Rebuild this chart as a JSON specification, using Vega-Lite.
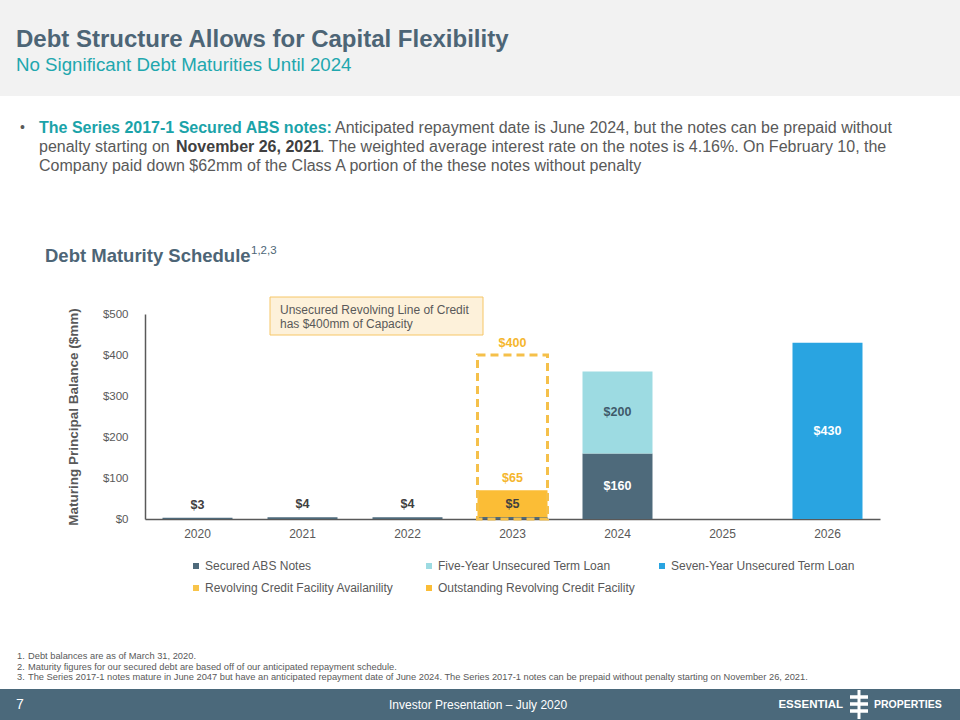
{
  "$schema": "https://vega.github.io/schema/vega-lite/v6.json",
  "width": 735,
  "height": 205,
  "autosize": {"type": "none"},
  "padding": {"left": 145, "top": 314, "right": 80, "bottom": 201},
  "background": "#ffffff",
  "config": {
    "view": {"stroke": null},
    "font": "Liberation Sans",
    "text": {"font": "Liberation Sans"},
    "axis": {"labelFont": "Liberation Sans", "titleFont": "Liberation Sans"},
    "legend": {"labelFont": "Liberation Sans"}
  },
  "data": {
    "values": [
      {"year": "2020", "series": "Secured ABS Notes", "value": 3},
      {"year": "2021", "series": "Secured ABS Notes", "value": 4},
      {"year": "2022", "series": "Secured ABS Notes", "value": 4},
      {"year": "2023", "series": "Secured ABS Notes", "value": 5},
      {"year": "2023", "series": "Outstanding Revolving Credit Facility", "value": 65},
      {"year": "2023", "series": "Revolving Credit Facility Availanility", "value": 400},
      {"year": "2024", "series": "Secured ABS Notes", "value": 160},
      {"year": "2024", "series": "Five-Year Unsecured Term Loan", "value": 200},
      {"year": "2026", "series": "Seven-Year Unsecured Term Loan", "value": 430}
    ]
  },
  "layer": [
    {
      "data": {"values": [{}]},
      "mark": {"type": "rect", "fill": "#f2f2f2"},
      "encoding": {"x": {"value": -145}, "x2": {"value": 815}, "y": {"value": -314}, "y2": {"value": -218}}
    },
    {
      "data": {"values": [{}]},
      "mark": {"type": "rect", "fill": "#4b697b"},
      "encoding": {"x": {"value": -145}, "x2": {"value": 815}, "y": {"value": 375}, "y2": {"value": 406}}
    },
    {
      "transform": [
        {"filter": "datum.series !== 'Revolving Credit Facility Availanility'"},
        {"stack": "value", "groupby": ["year"], "sort": [{"field": "series", "order": "descending"}], "as": ["v0", "v1"]}
      ],
      "mark": {"type": "bar"},
      "encoding": {
        "x": {
          "field": "year", "type": "nominal",
          "scale": {"domain": ["2020", "2021", "2022", "2023", "2024", "2025", "2026"], "paddingInner": 0.3333, "paddingOuter": 0.1667},
          "axis": {"title": null, "labelAngle": 0, "ticks": false, "domainColor": "#595959", "domainWidth": 1.5, "labelColor": "#595959", "labelFontSize": 12, "labelPadding": 9}
        },
        "y": {
          "field": "v1", "type": "quantitative",
          "scale": {"domain": [0, 500], "nice": false},
          "axis": {"title": "Maturing Principal Balance ($mm)", "values": [0, 100, 200, 300, 400, 500], "labelExpr": "'$' + datum.value", "grid": false, "ticks": false, "domainColor": "#595959", "domainWidth": 1.5, "labelColor": "#595959", "labelFontSize": 11.5, "labelPadding": 17, "titleFontSize": 13.5, "titleFontWeight": "bold", "titleColor": "#595959", "titlePadding": 22}
        },
        "y2": {"field": "v0"},
        "color": {
          "field": "series", "type": "nominal",
          "scale": {
            "domain": ["Secured ABS Notes", "Five-Year Unsecured Term Loan", "Seven-Year Unsecured Term Loan", "Revolving Credit Facility Availanility", "Outstanding Revolving Credit Facility"],
            "range": ["#4e6a7b", "#9ddbe2", "#29a4e1", "#f8c44a", "#fbbd36"]
          },
          "legend": {
            "title": null, "orient": "none", "legendX": 45, "legendY": 246, "direction": "horizontal", "columns": 3,
            "gridAlign": "all", "columnPadding": 21, "rowPadding": 10, "padding": 0,
            "symbolType": "square", "symbolSize": 36, "labelFontSize": 12, "labelColor": "#595959", "labelOffset": 3, "labelLimit": 300
          }
        }
      }
    },
    {
      "transform": [{"filter": "datum.series === 'Revolving Credit Facility Availanility'"}],
      "mark": {"type": "bar", "fillOpacity": 0, "stroke": "#f5c04a", "strokeWidth": 3, "strokeDash": [8, 5]},
      "encoding": {
        "x": {"field": "year", "type": "nominal"},
        "y": {"field": "value", "type": "quantitative", "stack": null}
      }
    },
    {
      "transform": [
        {"filter": "datum.series !== 'Revolving Credit Facility Availanility'"},
        {"stack": "value", "groupby": ["year"], "sort": [{"field": "series", "order": "descending"}], "as": ["v0", "v1"]},
        {"filter": "datum.series === 'Secured ABS Notes' && datum.year !== '2024'"},
        {"calculate": "'$' + datum.value", "as": "label"}
      ],
      "mark": {"type": "text", "dy": -13, "fontSize": 12.5, "fontWeight": "bold", "fill": "#404040"},
      "encoding": {"x": {"field": "year", "type": "nominal"}, "y": {"field": "v1", "type": "quantitative"}, "text": {"field": "label"}}
    },
    {
      "transform": [
        {"filter": "datum.series !== 'Revolving Credit Facility Availanility'"},
        {"stack": "value", "groupby": ["year"], "sort": [{"field": "series", "order": "descending"}], "as": ["v0", "v1"]},
        {"filter": "datum.series === 'Outstanding Revolving Credit Facility'"},
        {"calculate": "'$' + datum.value", "as": "label"}
      ],
      "mark": {"type": "text", "dy": -12, "fontSize": 12.5, "fontWeight": "bold", "fill": "#f5b62e"},
      "encoding": {"x": {"field": "year", "type": "nominal"}, "y": {"field": "v1", "type": "quantitative"}, "text": {"field": "label"}}
    },
    {
      "transform": [
        {"filter": "datum.series === 'Revolving Credit Facility Availanility'"},
        {"calculate": "'$' + datum.value", "as": "label"}
      ],
      "mark": {"type": "text", "dy": -12, "fontSize": 12.5, "fontWeight": "bold", "fill": "#f5b62e"},
      "encoding": {"x": {"field": "year", "type": "nominal"}, "y": {"field": "value", "type": "quantitative"}, "text": {"field": "label"}}
    },
    {
      "transform": [
        {"filter": "datum.series !== 'Revolving Credit Facility Availanility'"},
        {"stack": "value", "groupby": ["year"], "sort": [{"field": "series", "order": "descending"}], "as": ["v0", "v1"]},
        {"filter": "(datum.series === 'Secured ABS Notes' && datum.year === '2024') || datum.series === 'Seven-Year Unsecured Term Loan'"},
        {"calculate": "(datum.v0 + datum.v1) / 2", "as": "mid"},
        {"calculate": "'$' + datum.value", "as": "label"}
      ],
      "mark": {"type": "text", "fontSize": 12.5, "fontWeight": "bold", "fill": "#ffffff"},
      "encoding": {"x": {"field": "year", "type": "nominal"}, "y": {"field": "mid", "type": "quantitative"}, "text": {"field": "label"}}
    },
    {
      "transform": [
        {"filter": "datum.series !== 'Revolving Credit Facility Availanility'"},
        {"stack": "value", "groupby": ["year"], "sort": [{"field": "series", "order": "descending"}], "as": ["v0", "v1"]},
        {"filter": "datum.series === 'Five-Year Unsecured Term Loan'"},
        {"calculate": "(datum.v0 + datum.v1) / 2", "as": "mid"},
        {"calculate": "'$' + datum.value", "as": "label"}
      ],
      "mark": {"type": "text", "fontSize": 12.5, "fontWeight": "bold", "fill": "#3f5a6a"},
      "encoding": {"x": {"field": "year", "type": "nominal"}, "y": {"field": "mid", "type": "quantitative"}, "text": {"field": "label"}}
    },
    {
      "data": {"values": [{}]},
      "mark": {"type": "rect", "fill": "#fdf1da", "stroke": "#f6c667", "strokeWidth": 1},
      "encoding": {"x": {"value": 125}, "x2": {"value": 338}, "y": {"value": -17}, "y2": {"value": 21}}
    },
    {
      "data": {"values": [{}]},
      "mark": {"type": "text", "text": ["Unsecured Revolving Line of Credit", "has $400mm of Capacity"], "lineHeight": 14, "x": 135, "y": -4, "align": "left", "baseline": "middle", "fontSize": 12, "fill": "#595959"}
    },
    {
      "data": {"values": [{}]},
      "mark": {"type": "text", "text": "Debt Structure Allows for Capital Flexibility", "x": -129, "y": -267, "align": "left", "baseline": "alphabetic", "fontSize": 24, "fontWeight": "bold", "fill": "#4d6576"}
    },
    {
      "data": {"values": [{}]},
      "mark": {"type": "text", "text": "No Significant Debt Maturities Until  2024", "x": -129, "y": -243, "align": "left", "baseline": "alphabetic", "fontSize": 18.7, "fill": "#21a7ae"}
    },
    {
      "data": {"values": [{}]},
      "mark": {"type": "text", "text": "•", "x": -125, "y": -186, "align": "left", "baseline": "middle", "fontSize": 14, "fill": "#595959"}
    },
    {
      "data": {"values": [{}]},
      "mark": {"type": "text", "text": "The Series 2017-1 Secured ABS notes:", "x": -106, "y": -186, "align": "left", "baseline": "middle", "fontSize": 16, "fontWeight": "bold", "fill": "#1aa3a9"}
    },
    {
      "data": {"values": [{}]},
      "mark": {"type": "text", "text": "Anticipated repayment date is June 2024, but the notes can be prepaid without", "x": 190, "y": -186, "align": "left", "baseline": "middle", "fontSize": 16, "fill": "#595959"}
    },
    {
      "data": {"values": [{}]},
      "mark": {"type": "text", "text": "penalty starting on", "x": -106, "y": -167, "align": "left", "baseline": "middle", "fontSize": 16, "fill": "#595959"}
    },
    {
      "data": {"values": [{}]},
      "mark": {"type": "text", "text": "November 26, 2021", "x": 31, "y": -167, "align": "left", "baseline": "middle", "fontSize": 16, "fontWeight": "bold", "fill": "#404040"}
    },
    {
      "data": {"values": [{}]},
      "mark": {"type": "text", "text": ". The weighted average interest rate on the notes is 4.16%. On February 10, the", "x": 175, "y": -167, "align": "left", "baseline": "middle", "fontSize": 16, "fill": "#595959"}
    },
    {
      "data": {"values": [{}]},
      "mark": {"type": "text", "text": "Company paid down $62mm of the Class A portion of the these notes without penalty", "x": -106, "y": -148, "align": "left", "baseline": "middle", "fontSize": 16, "fill": "#595959"}
    },
    {
      "data": {"values": [{}]},
      "mark": {"type": "text", "text": "Debt Maturity Schedule", "x": -100, "y": -58, "align": "left", "baseline": "middle", "fontSize": 18.5, "fontWeight": "bold", "fill": "#4d6576"}
    },
    {
      "data": {"values": [{}]},
      "mark": {"type": "text", "text": "1,2,3", "x": 106, "y": -63, "align": "left", "baseline": "middle", "fontSize": 11.5, "fill": "#4d6576"}
    },
    {
      "data": {"values": [{}]},
      "mark": {"type": "text", "text": ["1.", "2.", "3."], "lineHeight": 10.5, "x": -128, "y": 338, "align": "left", "baseline": "top", "fontSize": 9.3, "fill": "#595959"}
    },
    {
      "data": {"values": [{}]},
      "mark": {"type": "text", "text": ["Debt balances are as of March 31, 2020.", "Maturity figures for our secured debt are based off of our anticipated repayment schedule.", "The Series 2017-1 notes mature in June 2047 but have an anticipated repayment date of June 2024. The Series 2017-1 notes can be prepaid without penalty starting on November 26, 2021."], "lineHeight": 10.5, "x": -117, "y": 338, "align": "left", "baseline": "top", "fontSize": 9.3, "fill": "#595959"}
    },
    {
      "data": {"values": [{}]},
      "mark": {"type": "text", "text": "7", "x": -129, "y": 391, "align": "left", "baseline": "middle", "fontSize": 14, "fill": "#ffffff"}
    },
    {
      "data": {"values": [{}]},
      "mark": {"type": "text", "text": "Investor Presentation – July 2020", "x": 244, "y": 391, "align": "left", "baseline": "middle", "fontSize": 12, "fill": "#ffffff"}
    },
    {
      "data": {"values": [{}]},
      "mark": {"type": "text", "text": "ESSENTIAL", "x": 698, "y": 391, "align": "right", "baseline": "middle", "fontSize": 11.5, "fontWeight": "bold", "fill": "#ffffff"}
    },
    {
      "data": {"values": [{}]},
      "mark": {"type": "text", "text": "PROPERTIES", "x": 729, "y": 391, "align": "left", "baseline": "middle", "fontSize": 10.5, "fontWeight": "bold", "fill": "#ffffff"}
    },
    {
      "data": {"values": [{}]},
      "mark": {"type": "rule", "stroke": "#ffffff", "strokeWidth": 3},
      "encoding": {"x": {"value": 714}, "x2": {"value": 714}, "y": {"value": 376}, "y2": {"value": 405}}
    },
    {
      "data": {"values": [{}]},
      "mark": {"type": "rule", "stroke": "#ffffff", "strokeWidth": 3.5},
      "encoding": {"x": {"value": 705}, "x2": {"value": 723}, "y": {"value": 383}, "y2": {"value": 383}}
    },
    {
      "data": {"values": [{}]},
      "mark": {"type": "rule", "stroke": "#ffffff", "strokeWidth": 3.5},
      "encoding": {"x": {"value": 705}, "x2": {"value": 723}, "y": {"value": 390}, "y2": {"value": 390}}
    },
    {
      "data": {"values": [{}]},
      "mark": {"type": "rule", "stroke": "#ffffff", "strokeWidth": 3.5},
      "encoding": {"x": {"value": 705}, "x2": {"value": 723}, "y": {"value": 397}, "y2": {"value": 397}}
    }
  ]
}
